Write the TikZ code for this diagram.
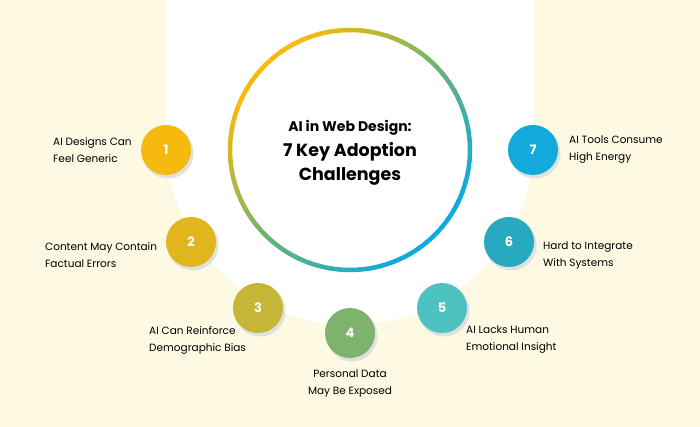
\documentclass[tikz,border=0pt]{standalone}
\usepackage{fontspec}
\setmainfont{Poppins}
\begin{document}
\begin{tikzpicture}[x=1pt,y=-1pt,
  num/.style={circle,minimum size=50pt,inner sep=0pt,text=white,font=\bfseries\fontsize{13}{13}\selectfont},
  lbl/.style={font=\fontsize{10.5}{17}\selectfont,align=left,inner sep=0pt},
  shadow/.style={fill=black!12}]
\definecolor{cream}{HTML}{FEF9E3}
\definecolor{c1}{HTML}{F6B90E}\definecolor{c2}{HTML}{E0B51E}\definecolor{c3}{HTML}{C6B638}
\definecolor{c4}{HTML}{7DB36C}\definecolor{c5}{HTML}{4DC2C0}\definecolor{c6}{HTML}{27AAC0}\definecolor{c7}{HTML}{12AADB}
\fill[cream] (0,0) rectangle (700,427);
\useasboundingbox (0,0) rectangle (700,427);
\fill[white] (166,0) -- (166,141) arc[start angle=180,end angle=0,radius=184] -- (534,0) -- cycle;
% gradient ring
\foreach \i in {0,...,71}{
  \pgfmathsetmacro{\a}{\i*5}
  \pgfmathsetmacro{\t}{min(1,max(0,(cos(\a+2.5)+sin(\a+2.5))/2.6+0.5))}
  \pgfmathsetmacro{\r}{ifthenelse(\t<0.5, 245-2*\t*(245-110), 110-(2*\t-1)*(110-18))}
  \pgfmathsetmacro{\g}{ifthenelse(\t<0.5, 185-2*\t*(185-180), 180-(2*\t-1)*(180-170))}
  \pgfmathsetmacro{\b}{ifthenelse(\t<0.5, 15+2*\t*(110-15), 110+(2*\t-1)*(220-110))}
  \definecolor{rc}{RGB}{\r,\g,\b}
  \draw[rc,line width=4.5pt] (350,150) ++(\a:120) arc[start angle=\a,end angle={\a+5.6},radius=120];
}
\node[font=\bfseries\fontsize{14}{14}\selectfont] (t1) at (350,128) {AI in Web Design:};
\node[font=\bfseries\fontsize{17.5}{17.5}\selectfont] (t2) at (350,152) {7 Key Adoption};
\node[font=\bfseries\fontsize{17.5}{17.5}\selectfont] (t3) at (350,176) {Challenges};
\foreach \n/\x/\y/\c in {1/166/150/c1,2/191/242/c2,3/258/308/c3,4/350/333/c4,5/442/308/c5,6/509/242/c6,7/533/150/c7}{
  \fill[shadow] (\x+2,\y+3) circle (25.5);
  \node[num,fill=\c] (n\n) at (\x,\y) {\n};
}
\node[lbl,anchor=west] (l1) at (53,150) {AI Designs Can\\Feel Generic};
\node[lbl,anchor=west] (l2) at (45,255) {Content May Contain\\Factual Errors};
\node[lbl,anchor=west] (l3) at (149,340) {AI Can Reinforce\\Demographic Bias};
\node[lbl,align=center] (l4) at (350,383) {Personal Data\\May Be Exposed};
\node[lbl,anchor=west] (l5) at (466,340) {AI Lacks Human\\Emotional Insight};
\node[lbl,anchor=west] (l6) at (543,255) {Hard to Integrate\\With Systems};
\node[lbl,anchor=west] (l7) at (569,150) {AI Tools Consume\\High Energy};
\end{tikzpicture}
\end{document}
